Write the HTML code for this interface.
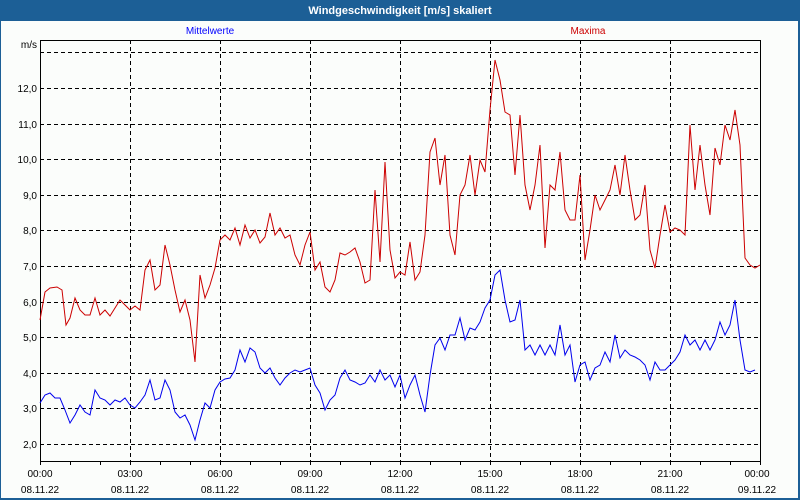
<!DOCTYPE html>
<html><head><meta charset="utf-8"><style>
body{margin:0;background:#fff}
svg{display:block}
text{font-family:"Liberation Sans",sans-serif;font-size:10px}
</style></head><body>
<svg width="800" height="500" xmlns="http://www.w3.org/2000/svg">
<rect x="0" y="0" width="800" height="500" fill="#1c5f96"/>
<rect x="1" y="21" width="797" height="477" fill="#fbfdfb"/>
<text x="400" y="14" text-anchor="middle" fill="#fff" font-weight="bold" style="font-size:11px">Windgeschwindigkeit [m/s] skaliert</text>
<text x="210" y="34" text-anchor="middle" fill="#0000ff">Mittelwerte</text>
<text x="588" y="34" text-anchor="middle" fill="#cc0000">Maxima</text>
<g stroke="#000" stroke-dasharray="4,3" stroke-width="1">
<line x1="40" x2="760" y1="444.5" y2="444.5"/><line x1="40" x2="760" y1="408.5" y2="408.5"/><line x1="40" x2="760" y1="373.5" y2="373.5"/><line x1="40" x2="760" y1="337.5" y2="337.5"/><line x1="40" x2="760" y1="302.5" y2="302.5"/><line x1="40" x2="760" y1="266.5" y2="266.5"/><line x1="40" x2="760" y1="230.5" y2="230.5"/><line x1="40" x2="760" y1="195.5" y2="195.5"/><line x1="40" x2="760" y1="159.5" y2="159.5"/><line x1="40" x2="760" y1="124.5" y2="124.5"/><line x1="40" x2="760" y1="88.5" y2="88.5"/><line x1="40" x2="760" y1="52.5" y2="52.5"/>
<line y1="40" y2="461" x1="130.5" x2="130.5"/><line y1="40" y2="461" x1="220.5" x2="220.5"/><line y1="40" y2="461" x1="310.5" x2="310.5"/><line y1="40" y2="461" x1="400.5" x2="400.5"/><line y1="40" y2="461" x1="490.5" x2="490.5"/><line y1="40" y2="461" x1="580.5" x2="580.5"/><line y1="40" y2="461" x1="670.5" x2="670.5"/>
</g>
<rect x="40.5" y="40.5" width="720" height="421" fill="none" stroke="#000"/>
<g stroke="#000">
<path d="M70.5 461v4M100.5 461v4M130.5 461v4M160.5 461v4M190.5 461v4M220.5 461v4M250.5 461v4M280.5 461v4M310.5 461v4M340.5 461v4M370.5 461v4M400.5 461v4M430.5 461v4M460.5 461v4M490.5 461v4M520.5 461v4M550.5 461v4M580.5 461v4M610.5 461v4M640.5 461v4M670.5 461v4M700.5 461v4M730.5 461v4M40.5 461v4M760.5 461v4"/>
</g>
<g text-anchor="end" fill="#000">
<text x="37" y="48">m/s</text>
<text x="37" y="448">2,0</text><text x="37" y="412">3,0</text><text x="37" y="377">4,0</text><text x="37" y="341">5,0</text><text x="37" y="306">6,0</text><text x="37" y="270">7,0</text><text x="37" y="234">8,0</text><text x="37" y="199">9,0</text><text x="37" y="163">10,0</text><text x="37" y="128">11,0</text><text x="37" y="92">12,0</text>
</g>
<g text-anchor="middle" fill="#000">
<text x="40" y="477">00:00</text><text x="40" y="493">08.11.22</text>
<text x="130" y="477">03:00</text><text x="130" y="493">08.11.22</text>
<text x="220" y="477">06:00</text><text x="220" y="493">08.11.22</text>
<text x="310" y="477">09:00</text><text x="310" y="493">08.11.22</text>
<text x="400" y="477">12:00</text><text x="400" y="493">08.11.22</text>
<text x="490" y="477">15:00</text><text x="490" y="493">08.11.22</text>
<text x="580" y="477">18:00</text><text x="580" y="493">08.11.22</text>
<text x="670" y="477">21:00</text><text x="670" y="493">08.11.22</text>
<text x="757" y="477">00:00</text><text x="757" y="493">09.11.22</text>
</g>
<polyline fill="none" stroke="#cc0000" stroke-width="1" points="40,320 45,292 50,288 57,287 62,290 66,325 70,318 75,298 80,310 85,315 90,315 95,298 100,315 105,310 110,316 115,308 120,300 125,305 130,310 135,306 140,310 145,270 150,260 155,290 160,285 165,245 170,265 175,290 180,312 185,300 190,320 195,362 200,275 205,298 210,285 215,268 220,240 225,235 230,240 235,228 240,245 245,225 250,238 255,230 260,243 265,237 270,213 275,235 280,228 285,238 290,235 295,255 300,265 305,245 310,232 315,270 320,262 325,287 330,292 335,280 340,253 345,255 350,252 355,248 360,262 365,283 370,280 375,190 380,262 385,162 390,250 395,278 400,272 405,275 410,242 415,280 420,272 425,235 430,152 435,138 440,185 445,155 450,235 455,255 460,195 465,185 470,155 475,195 480,160 485,172 490,110 495,60 500,80 505,112 510,115 515,175 520,115 525,185 530,210 535,185 540,145 545,248 550,185 555,190 560,152 565,210 570,220 575,220 580,175 585,260 590,230 595,195 600,210 605,200 610,190 615,165 620,195 625,155 630,190 635,220 640,215 645,185 650,250 655,268 660,235 665,205 670,232 675,228 680,230 685,235 690,125 695,190 700,145 705,185 710,215 715,148 720,165 725,125 730,140 735,110 740,145 745,258 750,265 755,268 760,265"/>
<polyline fill="none" stroke="#0000ee" stroke-width="1" points="40,403 45,395 50,393 55,398 60,398 65,410 70,423 75,415 80,405 85,412 90,415 95,390 100,398 105,400 110,405 115,400 120,402 125,398 130,405 135,408 140,402 145,395 150,380 155,400 160,398 165,380 170,390 175,412 180,418 185,415 190,425 195,440 200,420 205,403 210,408 215,390 220,382 225,379 230,378 235,370 240,350 245,362 250,348 255,352 260,368 265,373 270,368 275,378 280,385 285,378 290,373 295,370 300,372 305,370 310,368 315,385 320,393 325,410 330,400 335,395 340,378 345,370 350,380 355,382 360,385 365,383 370,375 375,382 380,370 385,380 390,375 395,387 400,375 405,398 410,385 415,375 420,395 425,412 430,375 435,345 440,338 445,350 450,335 455,335 460,318 465,340 470,328 475,330 480,322 485,308 490,300 495,275 500,270 505,300 510,322 515,320 520,300 525,350 530,345 535,355 540,345 545,355 550,345 555,355 560,325 565,355 570,345 575,382 580,365 585,362 590,380 595,368 600,365 605,352 610,362 615,335 620,358 625,350 630,355 635,357 640,360 645,365 650,380 655,362 660,370 665,370 670,365 675,360 680,352 685,335 690,345 695,340 700,350 705,340 710,350 715,340 720,322 725,335 730,325 735,300 740,340 745,370 750,372 755,370"/>
</svg>
</body></html>
